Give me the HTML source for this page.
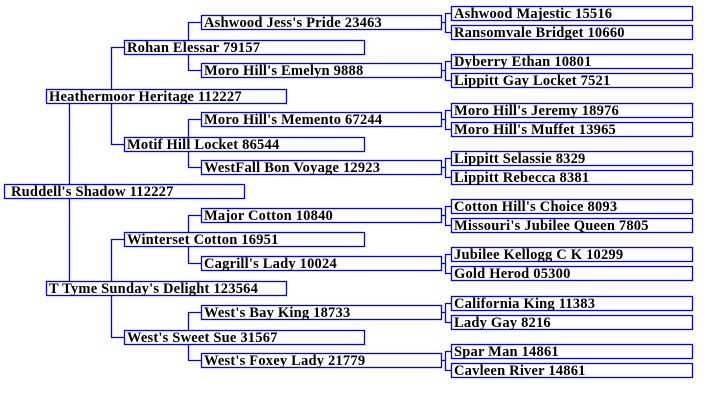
<!DOCTYPE html>
<html><head><meta charset="utf-8"><style>
html,body{margin:0;padding:0;background:#fff;width:716px;height:402px;overflow:hidden}
svg text{font-family:"Liberation Serif",serif;font-weight:bold;font-size:14.5px;letter-spacing:0.2px;fill:#000}
</style></head><body>
<svg width="716" height="402" xmlns="http://www.w3.org/2000/svg">
<g stroke="#0000ff" stroke-width="1.3" fill="none">
<rect x="4.5" y="184.5" width="240" height="14"/>
<rect x="46.5" y="89.5" width="240" height="14"/>
<rect x="46.5" y="281.5" width="240" height="14"/>
<rect x="124.5" y="40.5" width="240" height="14"/>
<rect x="124.5" y="137.5" width="240" height="14"/>
<rect x="124.5" y="232.5" width="240" height="14"/>
<rect x="124.5" y="330.5" width="240" height="14"/>
<rect x="201.5" y="15.5" width="240" height="14"/>
<rect x="201.5" y="63.5" width="240" height="14"/>
<rect x="201.5" y="112.5" width="240" height="14"/>
<rect x="201.5" y="160.5" width="240" height="14"/>
<rect x="201.5" y="208.5" width="240" height="14"/>
<rect x="201.5" y="256.5" width="240" height="14"/>
<rect x="201.5" y="305.5" width="240" height="14"/>
<rect x="201.5" y="353.5" width="240" height="14"/>
<rect x="451.5" y="6.5" width="241" height="14"/>
<rect x="451.5" y="25.5" width="241" height="14"/>
<rect x="451.5" y="54.5" width="241" height="14"/>
<rect x="451.5" y="73.5" width="241" height="14"/>
<rect x="451.5" y="103.5" width="241" height="14"/>
<rect x="451.5" y="122.5" width="241" height="14"/>
<rect x="451.5" y="151.5" width="241" height="14"/>
<rect x="451.5" y="170.5" width="241" height="14"/>
<rect x="451.5" y="199.5" width="241" height="14"/>
<rect x="451.5" y="218.5" width="241" height="14"/>
<rect x="451.5" y="247.5" width="241" height="14"/>
<rect x="451.5" y="266.5" width="241" height="14"/>
<rect x="451.5" y="296.5" width="241" height="14"/>
<rect x="451.5" y="315.5" width="241" height="14"/>
<rect x="451.5" y="344.5" width="241" height="14"/>
<rect x="451.5" y="363.5" width="241" height="14"/>
<path d="M69.5 103.5V184.5M69.5 198.5V281.5"/>
<path d="M111.5 89.5V47.5H124.5M111.5 103.5V144.5H124.5M111.5 281.5V239.5H124.5M111.5 295.5V337.5H124.5"/>
<path d="M188.5 40.5V22.5H201.5M188.5 54.5V70.5H201.5M188.5 137.5V119.5H201.5M188.5 151.5V167.5H201.5M188.5 232.5V215.5H201.5M188.5 246.5V263.5H201.5M188.5 330.5V312.5H201.5M188.5 344.5V360.5H201.5"/>
<path d="M441.5 22.5H445.5M451.5 13.5H445.5V32.5H451.5"/>
<path d="M441.5 70.5H445.5M451.5 61.5H445.5V80.5H451.5"/>
<path d="M441.5 119.5H445.5M451.5 110.5H445.5V129.5H451.5"/>
<path d="M441.5 167.5H445.5M451.5 158.5H445.5V177.5H451.5"/>
<path d="M441.5 215.5H445.5M451.5 206.5H445.5V225.5H451.5"/>
<path d="M441.5 263.5H445.5M451.5 254.5H445.5V273.5H451.5"/>
<path d="M441.5 312.5H445.5M451.5 303.5H445.5V322.5H451.5"/>
<path d="M441.5 360.5H445.5M451.5 351.5H445.5V370.5H451.5"/>
</g>
<text x="11" y="196">Ruddell's Shadow 112227</text>
<text x="49" y="101">Heathermoor Heritage 112227</text>
<text x="49" y="293">T Tyme Sunday's Delight 123564</text>
<text x="127" y="52">Rohan Elessar 79157</text>
<text x="127" y="149">Motif Hill Locket 86544</text>
<text x="127" y="244">Winterset Cotton 16951</text>
<text x="127" y="342">West's Sweet Sue 31567</text>
<text x="204" y="27">Ashwood Jess's Pride 23463</text>
<text x="204" y="75">Moro Hill's Emelyn 9888</text>
<text x="204" y="124">Moro Hill's Memento 67244</text>
<text x="204" y="172">WestFall Bon Voyage 12923</text>
<text x="204" y="220">Major Cotton 10840</text>
<text x="204" y="268">Cagrill's Lady 10024</text>
<text x="204" y="317">West's Bay King 18733</text>
<text x="204" y="365">West's Foxey Lady 21779</text>
<text x="454" y="18">Ashwood Majestic 15516</text>
<text x="454" y="37">Ransomvale Bridget 10660</text>
<text x="454" y="66">Dyberry Ethan 10801</text>
<text x="454" y="85">Lippitt Gay Locket 7521</text>
<text x="454" y="115">Moro Hill's Jeremy 18976</text>
<text x="454" y="134">Moro Hill's Muffet 13965</text>
<text x="454" y="163">Lippitt Selassie 8329</text>
<text x="454" y="182">Lippitt Rebecca 8381</text>
<text x="454" y="211">Cotton Hill's Choice 8093</text>
<text x="454" y="230">Missouri's Jubilee Queen 7805</text>
<text x="454" y="259">Jubilee Kellogg C K 10299</text>
<text x="454" y="278">Gold Herod 05300</text>
<text x="454" y="308">California King 11383</text>
<text x="454" y="327">Lady Gay 8216</text>
<text x="454" y="356">Spar Man 14861</text>
<text x="454" y="375">Cavleen River 14861</text>
</svg>
</body></html>
